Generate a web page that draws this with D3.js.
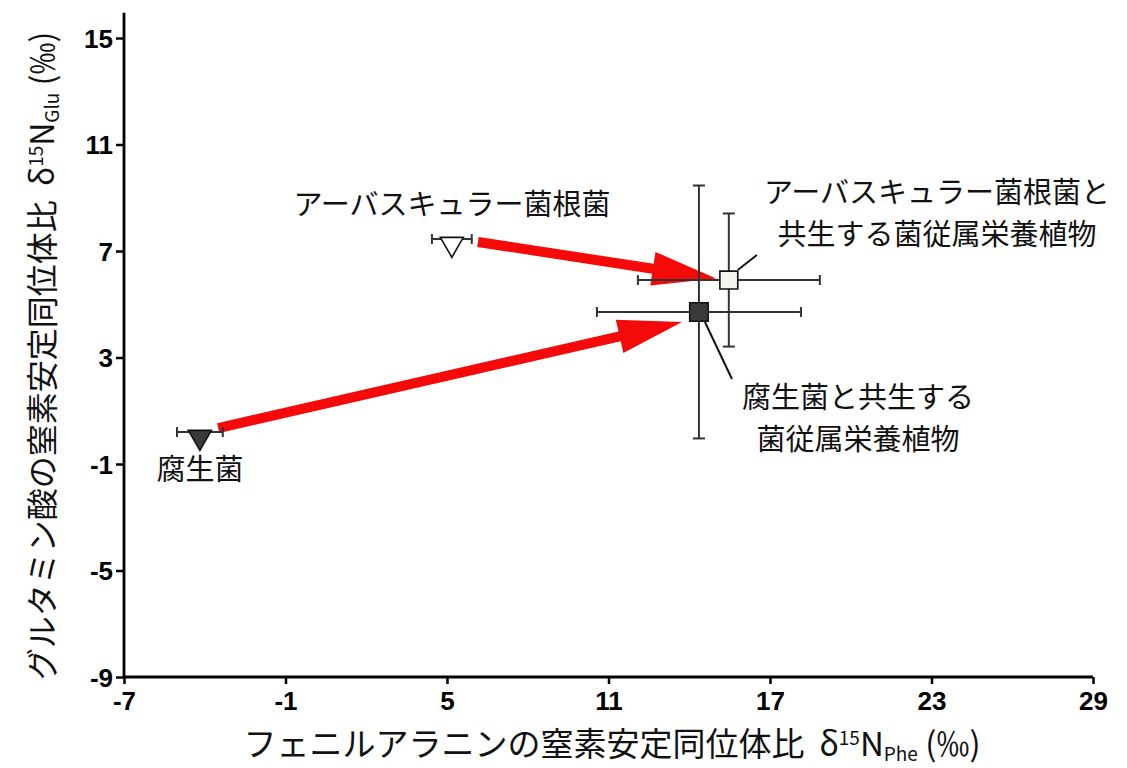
<!DOCTYPE html>
<html>
<head>
<meta charset="utf-8">
<script src="https://cdn.jsdelivr.net/npm/d3@7"></script>
<style>
  body { margin: 0; background: #fff; }
  svg { display: block; }
  .tick text { font-family: "Liberation Sans", Arial, sans-serif; font-weight: bold; font-size: 26px; fill: #000; }
  .jp { font-family: "Noto Sans CJK JP", sans-serif; fill: #111; white-space: pre; }
</style>
</head>
<body>
<svg id="chart" width="1127" height="768"></svg>
<script>
// data
const groups = ["腐生菌", "アーバスキュラー菌根菌", "腐生菌と共生する菌従属栄養植物", "アーバスキュラー菌根菌と共生する菌従属栄養植物"];
const phe = [-4.18, 5.18, 14.36, 15.47];      // δ15N Phe
const pheErr = [0.85, 0.74, 3.79, 3.38];
const glu = [0.2, 7.45, 4.71, 5.91];          // δ15N Glu
const gluErr = [0, 0, 4.75, 2.5];
const xTicks = [-7, -1, 5, 11, 17, 23, 29];
const yTicks = [-9, -5, -1, 3, 7, 11, 15];
// arrows: fungi -> associated plants
const arrowFrom = [[-3.5, 0.35], [6.15, 7.34]];
const arrowTo = [[13.73, 4.33], [15.0, 5.97]];

const svg = d3.select("#chart");

const x = d3.scaleLinear().domain([-7, 29]).range([124, 1093]);
const y = d3.scaleLinear().domain([-9, 15]).range([677, 38]);

// axes
const xAxis = svg.append("g")
    .attr("transform", `translate(0,${y(-9)})`)
    .call(d3.axisBottom(x).tickValues(xTicks).tickFormat(d => String(d)).tickSize(7).tickSizeOuter(0));
xAxis.select(".domain").remove();
xAxis.selectAll(".tick line").attr("stroke", "#000").attr("stroke-width", 2.5);
xAxis.selectAll(".tick text").attr("dy", 0).attr("y", 33);

const yAxis = svg.append("g")
    .attr("transform", `translate(${x(-7)},0)`)
    .call(d3.axisLeft(y).tickValues(yTicks).tickFormat(d => String(d)).tickSize(8).tickSizeOuter(0));
yAxis.select(".domain").remove();
yAxis.selectAll(".tick line").attr("stroke", "#000").attr("stroke-width", 2.5);
yAxis.selectAll(".tick text").attr("x", -11).attr("dy", "0.36em");

svg.append("line")
    .attr("x1", x(-7)).attr("x2", x(29))
    .attr("y1", y(-9)).attr("y2", y(-9))
    .attr("stroke", "#000").attr("stroke-width", 2.8);
svg.append("line")
    .attr("x1", x(-7)).attr("x2", x(-7))
    .attr("y1", y(-9) + 1.4).attr("y2", y(15.95))
    .attr("stroke", "#000").attr("stroke-width", 2.8);

// red arrows
const arrows = svg.append("g");
arrowFrom.forEach((a, i) => {
    const x0 = x(a[0]), y0 = y(a[1]);
    const x1 = x(arrowTo[i][0]), y1 = y(arrowTo[i][1]);
    const len = Math.hypot(x1 - x0, y1 - y0);
    const ux = (x1 - x0) / len, uy = (y1 - y0) / len;
    const px = -uy, py = ux;
    const headLen = 64, headW = 17, shaftW = 5;
    const bx = x1 - ux * headLen, by = y1 - uy * headLen;
    const pts = [
        [x0 + px * shaftW, y0 + py * shaftW],
        [bx + px * shaftW, by + py * shaftW],
        [bx + px * headW, by + py * headW],
        [x1, y1],
        [bx - px * headW, by - py * headW],
        [bx - px * shaftW, by - py * shaftW],
        [x0 - px * shaftW, y0 - py * shaftW]
    ];
    arrows.append("polygon")
        .attr("points", pts.map(p => p.join(",")).join(" "))
        .attr("fill", "#f50a0a");
});

// error bars
const eb = svg.append("g").attr("stroke", "#333").attr("stroke-width", 2).attr("fill", "none");
groups.forEach((g, i) => {
    const cx = x(phe[i]), cy = y(glu[i]);
    const cap = 5;
    if (pheErr[i] > 0) {
        const xl = x(phe[i] - pheErr[i]), xr = x(phe[i] + pheErr[i]);
        eb.append("line").attr("x1", xl).attr("x2", xr).attr("y1", cy).attr("y2", cy);
        eb.append("line").attr("x1", xl).attr("x2", xl).attr("y1", cy - cap).attr("y2", cy + cap);
        eb.append("line").attr("x1", xr).attr("x2", xr).attr("y1", cy - cap).attr("y2", cy + cap);
    }
    if (gluErr[i] > 0) {
        const yt = y(glu[i] + gluErr[i]), yb = y(glu[i] - gluErr[i]);
        eb.append("line").attr("x1", cx).attr("x2", cx).attr("y1", yt).attr("y2", yb);
        eb.append("line").attr("x1", cx - cap - 1).attr("x2", cx + cap + 1).attr("y1", yt).attr("y2", yt);
        eb.append("line").attr("x1", cx - cap - 1).attr("x2", cx + cap + 1).attr("y1", yb).attr("y2", yb);
    }
});

// markers
const shapes = [d3.symbolTriangle, d3.symbolTriangle, d3.symbolSquare, d3.symbolSquare];
const sizes = [230, 230, 340, 320];
const fills = ["#3a3a3a", "#ffffff", "#3a3a3a", "#f4f4ef"];
const rot = [180, 180, 0, 0];
svg.append("g").selectAll("path")
    .data(groups)
    .join("path")
    .attr("d", (d, i) => d3.symbol().type(shapes[i]).size(sizes[i])())
    .attr("transform", (d, i) => `translate(${x(phe[i])},${y(glu[i]) + (rot[i] ? 5 : 0)}) rotate(${rot[i]})`)
    .attr("fill", (d, i) => fills[i])
    .attr("stroke", "#111")
    .attr("stroke-width", 1.6);

// leader lines
svg.append("line").attr("x1", x(phe[3]) + 9).attr("y1", y(glu[3]) - 10)
    .attr("x2", x(phe[3]) + 28).attr("y2", y(glu[3]) - 25)
    .attr("stroke", "#111").attr("stroke-width", 2);
svg.append("line").attr("x1", x(phe[2]) + 6).attr("y1", y(glu[2]) + 10)
    .attr("x2", x(phe[2]) + 33).attr("y2", y(glu[2]) + 67)
    .attr("stroke", "#111").attr("stroke-width", 2);

// labels
const labelLines = [["腐生菌"], ["アーバスキュラー菌根菌"], ["腐生菌と共生する", "菌従属栄養植物"], ["アーバスキュラー菌根菌と", "共生する菌従属栄養植物"]];
const labelPos = [[200, 470], [452, 205], [858, 398], [937, 193]];
labelLines.forEach((lines, i) => {
    lines.forEach((t, j) => {
        svg.append("text").attr("class", "jp")
            .attr("x", labelPos[i][0]).attr("y", labelPos[i][1] + j * 42)
            .attr("text-anchor", "middle").attr("dy", "0.36em")
            .style("font-size", "29px")
            .text(t);
    });
});

// axis titles
const xt = svg.append("text").attr("class", "jp")
    .attr("x", 612).attr("y", 744).attr("dy", "0.36em")
    .attr("text-anchor", "middle")
    .style("font-size", "33px");
xt.append("tspan").text("フェニルアラニンの窒素安定同位体比  δ");
xt.append("tspan").attr("dy", -11).style("font-size", "19px").text("15");
xt.append("tspan").attr("dy", 11).text("N");
xt.append("tspan").attr("dy", 5).style("font-size", "19px").text("Phe");
xt.append("tspan").attr("dy", -5).text(" (‰)");

const yt = svg.append("text").attr("class", "jp")
    .attr("transform", "translate(42,356) rotate(-90)")
    .attr("dy", "0.36em")
    .attr("text-anchor", "middle")
    .style("font-size", "32px");
yt.append("tspan").text("グルタミン酸の窒素安定同位体比  δ");
yt.append("tspan").attr("dy", -11).style("font-size", "19px").text("15");
yt.append("tspan").attr("dy", 11).text("N");
yt.append("tspan").attr("dy", 5).style("font-size", "19px").text("Glu");
yt.append("tspan").attr("dy", -5).text(" (‰)");
</script>
</body>
</html>
